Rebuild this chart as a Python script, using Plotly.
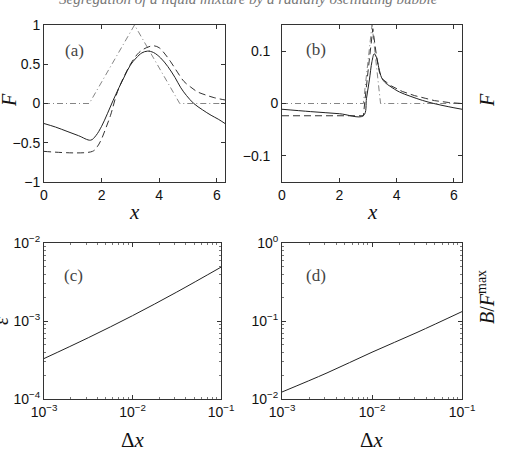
import plotly.graph_objects as go

W, H = 507, 455

# ---------------- data ----------------
# panel (a)
a_x_init = [0, 1.571, 3.1416, 4.712, 6.2832]
a_F_init = [0, 0, 1, 0, 0]
a_x_exact = [0, 1.68, 1.85, 2.0, 2.15, 2.31, 2.55, 2.8, 3.05, 3.3, 3.55, 3.8, 4.0, 4.2, 4.4, 4.63, 4.86, 5.09, 5.32, 5.6, 5.9, 6.2832]
a_F_exact = [-0.61, -0.61, -0.55, -0.45, -0.31, -0.15, 0.15, 0.36, 0.53, 0.65, 0.71, 0.735, 0.71, 0.63, 0.53, 0.40, 0.28, 0.21, 0.15, 0.11, 0.075, 0.045]
a_x_num = [0, 0.4, 0.8, 1.2, 1.62, 1.8, 2.0, 2.2, 2.4, 2.6, 2.8, 3.0, 3.2, 3.4, 3.59, 3.8, 4.05, 4.3, 4.55, 4.75, 4.95, 5.2, 5.5, 5.8, 6.05, 6.2832]
a_F_num = [-0.255, -0.3, -0.355, -0.41, -0.467, -0.41, -0.29, -0.13, 0.04, 0.2, 0.35, 0.49, 0.58, 0.645, 0.667, 0.65, 0.58, 0.47, 0.33, 0.2, 0.1, 0.0, -0.08, -0.15, -0.2, -0.255]

# panel (b)
b_x_init = [0, 2.84, 3.1416, 3.44, 6.2832]
b_F_init = [0, 0, 0.15, 0, 0]
b_x_exact = [0, 2.84, 3.0, 3.17, 3.3, 3.4, 3.5, 3.8, 4.2, 4.63, 5.0, 5.32, 5.8, 6.2832]
b_F_exact = [-0.0234, -0.0234, 0.06, 0.143, 0.09, 0.06, 0.047, 0.034, 0.023, 0.015, 0.01, 0.0055, 0.002, 0.0]
b_x_num = [0, 1.0, 2.0, 2.84, 2.95, 3.05, 3.14, 3.22, 3.3, 3.38, 3.48, 3.6, 3.77, 4.1, 4.47, 4.9, 5.3, 5.8, 6.2832]
b_F_num = [-0.011, -0.0155, -0.0195, -0.0234, 0.01, 0.045, 0.08, 0.095, 0.088, 0.068, 0.049, 0.04, 0.033, 0.022, 0.014, 0.006, 0.0, -0.006, -0.011]

# panel (c) and (d)
dx = [1e-3, 3.162e-3, 1e-2, 3.162e-2, 1e-1]
eps = [3.3e-4, 6.1e-4, 1.17e-3, 2.35e-3, 4.9e-3]
B_over_Fmax = [0.0123, 0.0216, 0.0398, 0.0713, 0.132]

lin_xticks = [0, 2, 4, 6]
a_yticks = [-1, -0.5, 0, 0.5, 1]
a_yticktext = ["\u22121", "\u22120.5", "0", "0.5", "1"]
b_yticks = [-0.1, 0, 0.1]
b_yticktext = ["\u22120.1\u00a0\u00a0", "0", "0.1\u00a0\u00a0"]
c_xticks = [1e-3, 1e-2, 1e-1]
c_xticktext = ["10<sup>\u22123</sup>", "10<sup>\u22122</sup>", "10<sup>\u22121</sup>"]
c_yticks = [1e-4, 1e-3, 1e-2]
c_yticktext = ["10<sup>\u22124</sup>", "10<sup>\u22123</sup>", "10<sup>\u22122</sup>"]
d_yticks = [1e-2, 1e-1, 1]
d_yticktext = ["10<sup>\u22122</sup>", "10<sup>\u22121</sup>", "10<sup>0</sup>"]

title_text = "Segregation of a liquid mixture by a radially oscillating bubble"

# ---------------- figure ----------------
fig = go.Figure()

def px_x(p):
    return p / W

def px_y(p):
    return 1 - p / H

def minor_vals(lo_exp, hi_exp):
    return [k * 10.0 ** e for e in range(lo_exp, hi_exp) for k in range(2, 10)]

solid = dict(color="#222222", width=1)
dashed = dict(color="#333333", width=1, dash="7px,4px")
dashdot = dict(color="#666666", width=0.8, dash="6px,3px,1px,3px")

fig.add_trace(go.Scatter(x=a_x_init, y=a_F_init, mode="lines", line=dashdot, xaxis="x", yaxis="y"))
fig.add_trace(go.Scatter(x=a_x_exact, y=a_F_exact, mode="lines", line=dashed, line_shape="spline", xaxis="x", yaxis="y"))
fig.add_trace(go.Scatter(x=a_x_num, y=a_F_num, mode="lines", line=solid, line_shape="spline", xaxis="x", yaxis="y"))

fig.add_trace(go.Scatter(x=b_x_init, y=b_F_init, mode="lines", line=dashdot, xaxis="x2", yaxis="y2"))
fig.add_trace(go.Scatter(x=b_x_exact, y=b_F_exact, mode="lines", line=dashed, xaxis="x2", yaxis="y2"))
fig.add_trace(go.Scatter(x=b_x_num, y=b_F_num, mode="lines", line=solid, line_shape="spline", xaxis="x2", yaxis="y2"))

fig.add_trace(go.Scatter(x=dx, y=eps, mode="lines", line=solid, line_shape="spline", xaxis="x3", yaxis="y3"))
fig.add_trace(go.Scatter(x=dx, y=B_over_Fmax, mode="lines", line=solid, line_shape="spline", xaxis="x4", yaxis="y4"))

tickfont = dict(family="Liberation Sans", size=14, color="#111111")
common = dict(showline=True, linecolor="#333333", linewidth=1, mirror="allticks",
              ticks="inside", ticklen=4, tickcolor="#333333", showgrid=False,
              zeroline=False, tickfont=tickfont, automargin=False, fixedrange=True)

top_dom = [px_y(182), px_y(25)]
bot_dom = [px_y(399), px_y(243)]

def minor_log(lo, hi):
    return dict(tickvals=minor_vals(lo, hi), ticks="inside", ticklen=2, tickcolor="#777777", showgrid=False)

fig.update_layout(
    width=W, height=H,
    margin=dict(l=0, r=0, t=0, b=0),
    paper_bgcolor="white", plot_bgcolor="white",
    showlegend=False,
    xaxis=dict(domain=[px_x(44), px_x(225)], range=[0, 6.2832], tickvals=lin_xticks, anchor="y", **common),
    yaxis=dict(domain=top_dom, range=[-1, 1], tickvals=a_yticks, ticktext=a_yticktext, anchor="x", **common),
    xaxis2=dict(domain=[px_x(282), px_x(462)], range=[0, 6.2832], tickvals=lin_xticks, anchor="y2", **common),
    yaxis2=dict(domain=top_dom, range=[-0.15, 0.15], tickvals=b_yticks, ticktext=b_yticktext, anchor="x2", **common),
    xaxis3=dict(domain=[px_x(44), px_x(221)], type="log", range=[-3, -1], tickvals=c_xticks, ticktext=c_xticktext,
                anchor="y3", minor=minor_log(-3, -1), **common),
    yaxis3=dict(domain=bot_dom, type="log", range=[-4, -2], tickvals=c_yticks, ticktext=c_yticktext,
                anchor="x3", minor=minor_log(-4, -2), **common),
    xaxis4=dict(domain=[px_x(282), px_x(462)], type="log", range=[-3, -1], tickvals=c_xticks, ticktext=c_xticktext,
                anchor="y4", minor=minor_log(-3, -1), **common),
    yaxis4=dict(domain=bot_dom, type="log", range=[-2, 0], tickvals=d_yticks, ticktext=d_yticktext,
                anchor="x4", minor=minor_log(-2, 0), **common),
)

serif = "Liberation Serif"
ann = []

def add_text(text, x, y, size, angle=0, color="#111111", xanchor="center", yanchor="middle"):
    ann.append(dict(text=text, x=px_x(x), y=px_y(y), xref="paper", yref="paper", showarrow=False,
                    textangle=angle, xanchor=xanchor, yanchor=yanchor,
                    font=dict(family=serif, size=size, color=color)))

add_text("<i>" + title_text + "</i>", 248, -1, 15, color="#777777")
add_text("<i>x</i>", 134, 212, 21)
add_text("<i>x</i>", 372, 212, 21)
add_text("<i>F</i>", 9, 100, 20, angle=-90)
add_text("<i>F</i>", 487, 100, 20, angle=-90)
add_text("\u0394<i>x</i>", 133, 440, 21)
add_text("\u0394<i>x</i>", 372, 440, 21)
add_text("<i>\u03b5</i>", 1, 321, 20, angle=-90)
add_text("<i>B</i>/<i>F</i><sup>max</sup>", 486, 297, 20, angle=-90)
add_text("(a)", 74, 50, 17, color="#444444")
add_text("(b)", 316, 49, 17, color="#444444")
add_text("(c)", 73, 275, 17, color="#444444")
add_text("(d)", 316, 275, 17, color="#444444")

fig.update_layout(annotations=ann)

fig.write_html("out.html", config={"displayModeBar": False},
               post_script="document.body.style.margin='0';")
